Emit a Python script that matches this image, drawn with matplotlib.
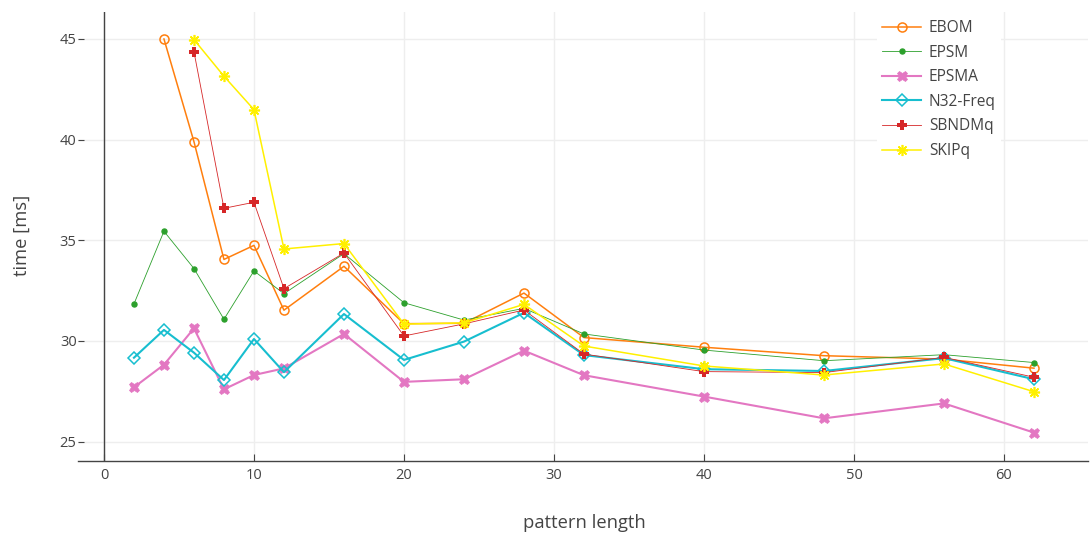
import numpy as np
import matplotlib
matplotlib.use("Agg")
import matplotlib.pyplot as plt

plt.rcParams['font.family'] = ['Open Sans', 'DejaVu Sans']

nan = np.nan
pattern_length = [2, 4, 6, 8, 10, 12, 16, 20, 24, 28, 32, 40, 48, 56, 62]

ebom = [nan, 45.0, 39.9, 34.05, 34.75, 31.53, 33.71, 30.86, 30.88, 32.38, 30.17, 29.69, 29.27, 29.1, 28.65]
epsm = [31.84, 35.45, 33.6, 31.08, 33.48, 32.35, 34.34, 31.9, 31.04, 31.62, 30.35, 29.55, 29.02, 29.32, 28.93]
epsma = [27.7, 28.82, 30.63, 27.6, 28.31, 28.64, 30.35, 27.97, 28.1, 29.52, 28.3, 27.24, 26.16, 26.9, 25.45]
n32_freq = [29.17, 30.55, 29.42, 28.06, 30.1, 28.45, 31.34, 29.06, 29.97, 31.4, 29.3, 28.6, 28.51, 29.15, 28.1]
sbndmq = [nan, nan, 44.37, 36.59, 36.89, 32.6, 34.37, 30.25, 30.85, 31.54, 29.35, 28.48, 28.43, 29.19, 28.2]
skipq = [nan, nan, 44.97, 43.15, 41.49, 34.57, 34.84, 30.84, 30.9, 31.82, 29.75, 28.76, 28.31, 28.86, 27.48]

series = [
    ("EBOM", ebom, dict(color="#ff7f0e", lw=1.1, marker="o", ms=6.5, mfc="none", mew=1.1)),
    ("EPSM", epsm, dict(color="#2ca02c", lw=0.6, marker="o", ms=3.6)),
    ("EPSMA", epsma, dict(color="#e377c2", lw=1.5, marker="X", ms=7.5, mew=0.5)),
    ("N32-Freq", n32_freq, dict(color="#17becf", lw=1.5, marker="D", ms=6, mfc="none", mew=1.1)),
    ("SBNDMq", sbndmq, dict(color="#d62728", lw=0.6, marker="P", ms=7.5, mew=0)),
    ("SKIPq", skipq, dict(color="#fff000", lw=1.1, marker=(8, 2, 0), ms=8, mew=1.2)),
]

W, H = 1091, 534
fig = plt.figure(figsize=(W / 100, H / 100), dpi=100)
ax = fig.add_axes([78 / W, 1 - 461 / H, (1088 - 78) / W, (461 - 12) / H])

for name, vals, style in series:
    ax.plot(pattern_length, vals, label=name, **style)

ax.set_xlim(-1.73, 65.6)
ax.set_ylim(24.04, 46.34)
ax.set_xticks([0, 10, 20, 30, 40, 50, 60])
ax.set_yticks([25, 30, 35, 40, 45])

ax.grid(True, color="#eeeeee", lw=1)
ax.set_axisbelow(True)
ax.axvline(0, color="#444444", lw=1, zorder=1.5)
for s in ["top", "right", "left"]:
    ax.spines[s].set_visible(False)
ax.spines["bottom"].set_color("#444444")
ax.spines["bottom"].set_linewidth(1)

ax.tick_params(axis="x", direction="in", length=5, color="#444444", labelcolor="#444444",
               labelsize=10.5, pad=5)
ax.tick_params(axis="y", direction="in", length=4, color="#444444", labelcolor="#444444",
               labelsize=10.5, pad=1)

fig.text(584 / W, 1 - 523 / H, "pattern length", ha="center", va="center", fontsize=13.2, color="#444444")
fig.text(22 / W, 1 - 235 / H, "time [ms]", ha="center", va="center", fontsize=13.2, color="#444444",
         rotation=90)

leg = fig.legend(loc="upper left", bbox_to_anchor=(869 / W, 1 - 7 / H), frameon=True,
                 fontsize=11.2, handlelength=2.5, labelspacing=0.55, borderpad=0.35,
                 handletextpad=0.5, fancybox=False)
leg.get_frame().set_edgecolor("none")
leg.get_frame().set_facecolor("white")
leg.get_frame().set_alpha(1)
for t in leg.get_texts():
    t.set_color("#444444")

fig.savefig("out.png", dpi=100)
